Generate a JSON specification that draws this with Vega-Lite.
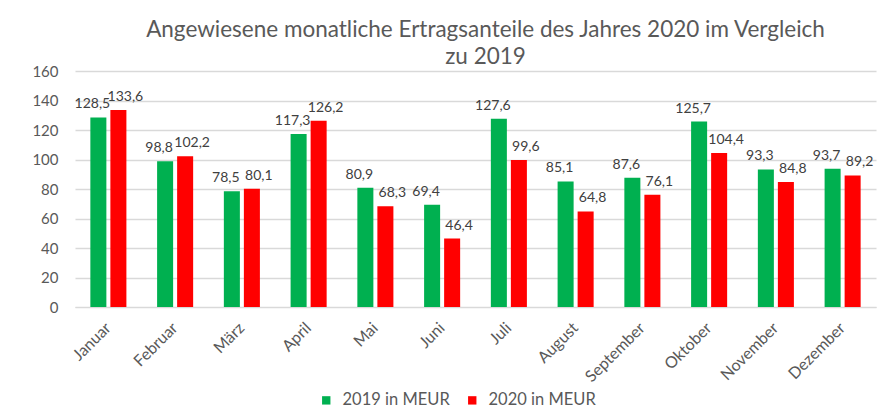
{
  "$schema": "https://vega.github.io/schema/vega-lite/v6.json",
  "width": 801,
  "height": 236,
  "autosize": "none",
  "padding": {"left": 75, "top": 71, "right": 5, "bottom": 113},
  "background": "white",
  "title": {
    "text": ["Angewiesene monatliche Ertragsanteile des Jahres 2020 im Vergleich", "zu 2019"],
    "anchor": "middle",
    "frame": "group",
    "font": "Lato",
    "fontSize": 22.5,
    "fontWeight": "normal",
    "color": "#595959",
    "lineHeight": 27,
    "dx": 10,
    "dy": 4,
    "offset": 0
  },
  "data": {
    "values": [
      {"Monat": "Januar", "Jahr": "2019  in MEUR", "Wert": 128.5},
      {"Monat": "Januar", "Jahr": "2020 in MEUR", "Wert": 133.6},
      {"Monat": "Februar", "Jahr": "2019  in MEUR", "Wert": 98.8},
      {"Monat": "Februar", "Jahr": "2020 in MEUR", "Wert": 102.2},
      {"Monat": "März", "Jahr": "2019  in MEUR", "Wert": 78.5},
      {"Monat": "März", "Jahr": "2020 in MEUR", "Wert": 80.1},
      {"Monat": "April", "Jahr": "2019  in MEUR", "Wert": 117.3},
      {"Monat": "April", "Jahr": "2020 in MEUR", "Wert": 126.2},
      {"Monat": "Mai", "Jahr": "2019  in MEUR", "Wert": 80.9},
      {"Monat": "Mai", "Jahr": "2020 in MEUR", "Wert": 68.3},
      {"Monat": "Juni", "Jahr": "2019  in MEUR", "Wert": 69.4},
      {"Monat": "Juni", "Jahr": "2020 in MEUR", "Wert": 46.4},
      {"Monat": "Juli", "Jahr": "2019  in MEUR", "Wert": 127.6},
      {"Monat": "Juli", "Jahr": "2020 in MEUR", "Wert": 99.6},
      {"Monat": "August", "Jahr": "2019  in MEUR", "Wert": 85.1},
      {"Monat": "August", "Jahr": "2020 in MEUR", "Wert": 64.8},
      {"Monat": "September", "Jahr": "2019  in MEUR", "Wert": 87.6},
      {"Monat": "September", "Jahr": "2020 in MEUR", "Wert": 76.1},
      {"Monat": "Oktober", "Jahr": "2019  in MEUR", "Wert": 125.7},
      {"Monat": "Oktober", "Jahr": "2020 in MEUR", "Wert": 104.4},
      {"Monat": "November", "Jahr": "2019  in MEUR", "Wert": 93.3},
      {"Monat": "November", "Jahr": "2020 in MEUR", "Wert": 84.8},
      {"Monat": "Dezember", "Jahr": "2019  in MEUR", "Wert": 93.7},
      {"Monat": "Dezember", "Jahr": "2020 in MEUR", "Wert": 89.2}
    ]
  },
  "encoding": {
    "x": {
      "field": "Monat",
      "type": "nominal",
      "sort": ["Januar", "Februar", "März", "April", "Mai", "Juni", "Juli", "August", "September", "Oktober", "November", "Dezember"],
      "scale": {"paddingInner": 0.46, "paddingOuter": 0.23},
      "axis": {
        "title": null,
        "labelAngle": -45,
        "labelAlign": "right",
        "labelBaseline": "middle",
        "labelFont": "Lato",
        "labelFontSize": 16,
        "labelColor": "#595959",
        "labelPadding": 18,
        "ticks": false,
        "domain": true,
        "domainColor": "#D9D9D9",
        "grid": false
      }
    },
    "xOffset": {
      "field": "Jahr",
      "type": "nominal",
      "scale": {"paddingInner": 0.2}
    },
    "y": {
      "field": "Wert",
      "type": "quantitative",
      "scale": {"domain": [0, 160], "nice": false},
      "axis": {
        "title": null,
        "values": [0, 20, 40, 60, 80, 100, 120, 140, 160],
        "labelFont": "Lato",
        "labelFontSize": 15,
        "labelColor": "#595959",
        "labelPadding": 17,
        "ticks": false,
        "domain": false,
        "grid": true,
        "gridColor": "#D9D9D9",
        "gridWidth": 1.5
      }
    }
  },
  "layer": [
    {
      "mark": {"type": "bar"},
      "encoding": {
        "color": {
          "field": "Jahr",
          "type": "nominal",
          "scale": {"domain": ["2019  in MEUR", "2020 in MEUR"], "range": ["#00B050", "#FF0000"]},
          "legend": {
            "title": null,
            "orient": "none",
            "direction": "horizontal",
            "legendX": 243,
            "legendY": 321,
            "symbolType": "square",
            "symbolSize": 70,
            "labelFont": "Lato",
            "labelFontSize": 16.5,
            "labelColor": "#595959",
            "columnPadding": 10,
            "labelOffset": 8,
            "labelLimit": 300
          }
        }
      }
    },
    {
      "transform": [{"filter": "datum.Jahr === '2019  in MEUR'"}],
      "mark": {"type": "text", "baseline": "alphabetic", "dy": -9, "dx": -6, "font": "Lato", "fontSize": 14, "color": "#404040"},
      "encoding": {
        "text": {"field": "Wert", "type": "quantitative", "format": ".1f"}
      }
    },
    {
      "transform": [{"filter": "datum.Jahr === '2020 in MEUR'"}],
      "mark": {"type": "text", "baseline": "alphabetic", "dy": -9, "dx": 7, "font": "Lato", "fontSize": 14, "color": "#404040"},
      "encoding": {
        "text": {"field": "Wert", "type": "quantitative", "format": ".1f"}
      }
    }
  ],
  "config": {
    "view": {"stroke": null},
    "locale": {
      "number": {"decimal": ",", "thousands": ".", "grouping": [3], "currency": ["", " €"]}
    }
  }
}
